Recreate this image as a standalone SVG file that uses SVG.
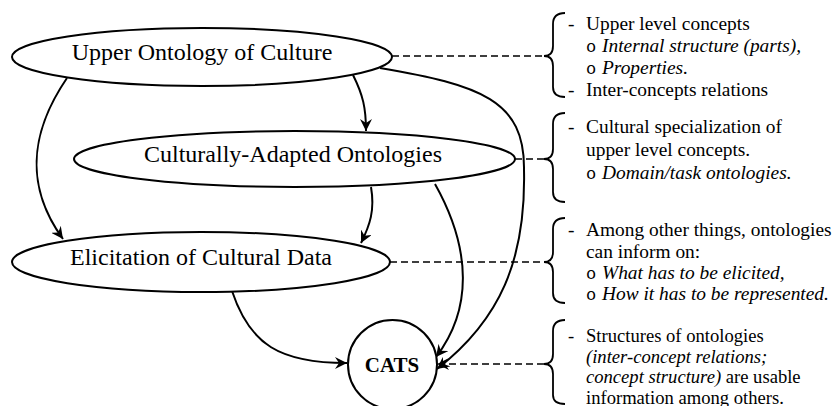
<svg xmlns="http://www.w3.org/2000/svg" width="832" height="406" viewBox="0 0 832 406">
  <defs>
    <marker id="arrow" markerUnits="userSpaceOnUse" markerWidth="14" markerHeight="12" refX="12" refY="6" orient="auto">
      <path d="M0,0 L12,6 L0,12 L4,6 Z" fill="#000"/>
    </marker>
    <style>
      .node { fill: #fff; stroke: #000; stroke-width: 2; }
      .label { font-family: "Liberation Serif", "Times New Roman", serif; font-size: 24px; fill: #000; text-anchor: middle; }
      .bold { font-weight: bold; font-size: 21px; }
      .edge { fill: none; stroke: #000; stroke-width: 2; marker-end: url(#arrow); }
      .dash { fill: none; stroke: #000; stroke-width: 1.6; stroke-dasharray: 7 4; }
      .brace { fill: none; stroke: #000; stroke-width: 1.8; }
      .note { font-family: "Liberation Serif", "Times New Roman", serif; font-size: 19.4px; fill: #000; }
      .small { font-size: 18.6px; }
      .it { font-style: italic; }
      .bul { font-family: "Liberation Mono", "Courier New", monospace; font-size: 17px; }
    </style>
  </defs>
  <rect width="832" height="406" fill="#fff"/>

  <!-- connectors -->
  <g id="connectors">
    <path class="edge" d="M67,78 C35,125 20,180 63,239"/>
    <path class="edge" d="M353,75 C363,95 366,108 366,131"/>
    <path class="edge" d="M380,68 C480,85 525,100 524,170 C526,260 500,320 437,369"/>
    <path class="edge" d="M371,187 C375,210 370,225 361,243"/>
    <path class="edge" d="M435,184 C472,250 472,310 436,357"/>
    <path class="edge" d="M232,291 C250,345 280,363 347,363"/>
    <path class="dash" d="M392,56 L544,56"/>
    <path class="dash" d="M515,159 L544,159"/>
    <path class="dash" d="M390,262 L544,262"/>
    <path class="dash" d="M544,364 L440,364"/>
    <path d="M437,364 L449,358 L445,364 L449,370 Z" fill="#000"/>
  </g>

  <!-- nodes -->
  <g id="upper-ontology">
    <ellipse class="node" cx="202" cy="57" rx="190" ry="29"/>
    <text class="label" x="202" y="60">Upper Ontology of Culture</text>
  </g>
  <g id="culturally-adapted">
    <ellipse class="node" cx="294.5" cy="159" rx="220.5" ry="28"/>
    <text class="label" x="293" y="162">Culturally-Adapted Ontologies</text>
  </g>
  <g id="elicitation">
    <ellipse class="node" cx="201" cy="262" rx="189" ry="30"/>
    <text class="label" x="201" y="265">Elicitation of Cultural Data</text>
  </g>
  <g id="cats">
    <circle class="node" cx="392.5" cy="364.5" r="44.5"/>
    <text class="label bold" x="392" y="372">CATS</text>
  </g>

  <!-- annotation braces and notes -->
  <g id="note-upper">
    <path class="brace" d="M565,13 Q553,13 553,24 L553,46 Q553,56 544,56 Q553,56 553,66 L553,87 Q553,97 565,97"/>
    <text class="note" x="568" y="30">-</text>
    <text class="note" x="586" y="30">Upper level concepts</text>
    <text class="note bul" x="586" y="52">o</text>
    <text class="note it" x="602" y="52">Internal structure (parts),</text>
    <text class="note bul" x="586" y="74">o</text>
    <text class="note it" x="602" y="74">Properties.</text>
    <text class="note" x="568" y="96">-</text>
    <text class="note" x="586" y="96">Inter-concepts relations</text>
  </g>
  <g id="note-culturally">
    <path class="brace" d="M565,113 Q553,113 553,124 L553,149 Q553,159 544,159 Q553,159 553,169 L553,192 Q553,202 565,202"/>
    <text class="note" x="568" y="133">-</text>
    <text class="note" x="586" y="133">Cultural specialization of</text>
    <text class="note" x="586" y="156">upper level concepts.</text>
    <text class="note bul" x="586" y="179">o</text>
    <text class="note it" x="602" y="179">Domain/task ontologies.</text>
  </g>
  <g id="note-elicitation">
    <path class="brace" d="M565,218 Q553,218 553,229 L553,252 Q553,262 544,262 Q553,262 553,272 L553,293 Q553,303 565,303"/>
    <text class="note" x="568" y="236">-</text>
    <text class="note" x="586" y="236">Among other things, ontologies</text>
    <text class="note" x="586" y="258">can inform on:</text>
    <text class="note bul" x="586" y="279">o</text>
    <text class="note it" x="602" y="279">What has to be elicited,</text>
    <text class="note bul" x="586" y="300">o</text>
    <text class="note it" x="602" y="300">How it has to be represented.</text>
  </g>
  <g id="note-cats">
    <path class="brace" d="M565,320 Q553,320 553,331 L553,354 Q553,364 544,364 Q553,364 553,374 L553,395 Q553,404 565,404"/>
    <text class="note small" x="568" y="342">-</text>
    <text class="note small" x="586" y="342">Structures of ontologies</text>
    <text class="note small it" x="586" y="362.5">(inter-concept relations;</text>
    <text class="note small" x="586" y="383"><tspan class="it">concept structure)</tspan> are usable</text>
    <text class="note small" x="586" y="403.5">information among others.</text>
  </g>
</svg>
